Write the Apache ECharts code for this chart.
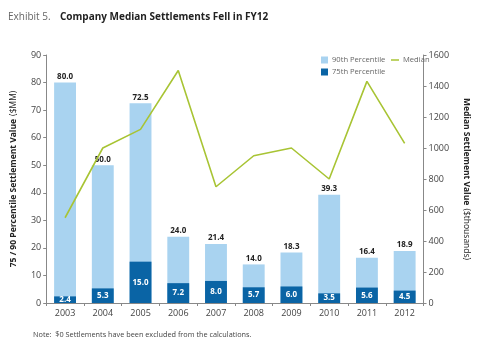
<!DOCTYPE html>
<html>
<head>
<meta charset="utf-8">
<script src="https://cdn.jsdelivr.net/npm/echarts@6/dist/echarts.min.js"></script>
<style>
  html, body { margin: 0; padding: 0; background: #fff; }
  #chart { width: 480px; height: 344px; }
</style>
</head>
<body>
<div id="chart"></div>
<script>
// Fiscal years on the category axis
const years = ['2003', '2004', '2005', '2006', '2007', '2008', '2009', '2010', '2011', '2012'];
// 90th percentile settlement value ($MM)
const p90 = [80.0, 50.0, 72.5, 24.0, 21.4, 14.0, 18.3, 39.3, 16.4, 18.9];
// 75th percentile settlement value ($MM)
const p75 = [2.4, 5.3, 15.0, 7.2, 8.0, 5.7, 6.0, 3.5, 5.6, 4.5];
// Median settlement value ($ thousands)
const median = [550, 1000, 1120, 1500, 750, 950, 1000, 800, 1430, 1030];
// Tick setup for both value axes
const leftTicks = { min: 0, max: 90, interval: 10 };
const rightTicks = { min: 0, max: 1600, interval: 200 };

const FONT = '"Open Sans", "Noto Sans", sans-serif';
const LIGHT = '#a9d3f0';
const DARK = '#0a64a5';
const GREEN = '#a8c434';
const AXIS = '#888';

const chart = echarts.init(document.getElementById('chart'), null, { renderer: 'canvas' });

const legendText = { fontSize: 7.6, color: '#666', fontFamily: FONT, padding: [0, 0, 0, -1] };

chart.setOption({
  animation: false,
  textStyle: { fontFamily: FONT },
  grid: { left: 33, right: 47, top: 55, bottom: 41 },
  title: {
    left: 3, top: 3,
    text: '{a|Exhibit 5.}  {b|Company Median Settlements Fell in FY12}',
    textStyle: {
      fontWeight: 'normal',
      rich: {
        a: { fontFamily: FONT, fontSize: 10, fontWeight: 'normal', color: '#666' },
        b: { fontFamily: FONT, fontSize: 10, fontWeight: 'bold', color: '#222' }
      }
    }
  },
  legend: [
    {
      left: 316, top: 51, itemWidth: 7, itemHeight: 7,
      data: [{ name: '90th Percentile', icon: 'rect' }],
      textStyle: legendText
    },
    {
      left: 386, top: 51, itemWidth: 8, itemHeight: 1.5,
      data: [{ name: 'Median', icon: 'rect' }],
      textStyle: legendText
    },
    {
      left: 316, top: 63, itemWidth: 7, itemHeight: 7,
      data: [{ name: '75th Percentile', icon: 'rect' }],
      textStyle: legendText
    }
  ],
  xAxis: {
    type: 'category',
    data: years,
    axisLine: { lineStyle: { color: AXIS } },
    axisTick: { show: true, alignWithLabel: false, length: 3, lineStyle: { color: AXIS } },
    axisLabel: { color: '#444', fontSize: 9, margin: 6 }
  },
  yAxis: [
    {
      type: 'value',
      min: leftTicks.min, max: leftTicks.max, interval: leftTicks.interval,
      position: 'left',
      axisLine: { show: true, lineStyle: { color: AXIS } },
      axisTick: { show: true, length: 3, lineStyle: { color: AXIS } },
      splitLine: { show: false },
      axisLabel: { color: '#444', fontSize: 9, margin: 5 },
      name: '{b|75 / 90 Percentile Settlement Value} {n|($MM)}',
      nameLocation: 'middle',
      nameRotate: 90,
      nameGap: 23,
      nameTextStyle: {
        rich: {
          b: { fontFamily: FONT, fontSize: 8.5, fontWeight: 'bold', color: '#222' },
          n: { fontFamily: FONT, fontSize: 8.5, color: '#222' }
        }
      }
    },
    {
      type: 'value',
      min: rightTicks.min, max: rightTicks.max, interval: rightTicks.interval,
      position: 'right',
      axisLine: { show: true, lineStyle: { color: AXIS } },
      axisTick: { show: true, length: 3, lineStyle: { color: AXIS } },
      splitLine: { show: false },
      axisLabel: { color: '#444', fontSize: 9, margin: 5, formatter: v => String(v) },
      name: '{b|Median Settlement Value} {n|($thousands)}',
      nameLocation: 'middle',
      nameRotate: -90,
      nameGap: 36,
      nameTextStyle: {
        rich: {
          b: { fontFamily: FONT, fontSize: 8.5, fontWeight: 'bold', color: '#222' },
          n: { fontFamily: FONT, fontSize: 8.5, color: '#222' }
        }
      }
    }
  ],
  series: [
    {
      name: '90th Percentile',
      type: 'bar',
      data: p90,
      barWidth: '58%',
      barGap: '-100%',
      itemStyle: { color: LIGHT },
      label: {
        show: true, position: 'top', distance: 2,
        formatter: p => p.value.toFixed(1),
        fontSize: 8, fontWeight: 'bold', color: '#222', fontFamily: FONT
      },
      z: 2
    },
    {
      name: '75th Percentile',
      type: 'bar',
      data: p75,
      barWidth: '58%',
      itemStyle: { color: DARK },
      label: {
        show: true, position: 'inside',
        formatter: p => p.value.toFixed(1),
        fontSize: 8, fontWeight: 'bold', color: '#fff', fontFamily: FONT
      },
      z: 3
    },
    {
      name: 'Median',
      type: 'line',
      yAxisIndex: 1,
      data: median,
      symbol: 'none',
      lineStyle: { color: GREEN, width: 1.6 },
      itemStyle: { color: GREEN },
      z: 4
    }
  ],
  graphic: [
    {
      type: 'text', left: 33, top: 331,
      style: {
        text: 'Note:  $0 Settlements have been excluded from the calculations.',
        fontFamily: FONT, fontSize: 7.3, fill: '#444'
      }
    }
  ]
});
</script>
</body>
</html>
